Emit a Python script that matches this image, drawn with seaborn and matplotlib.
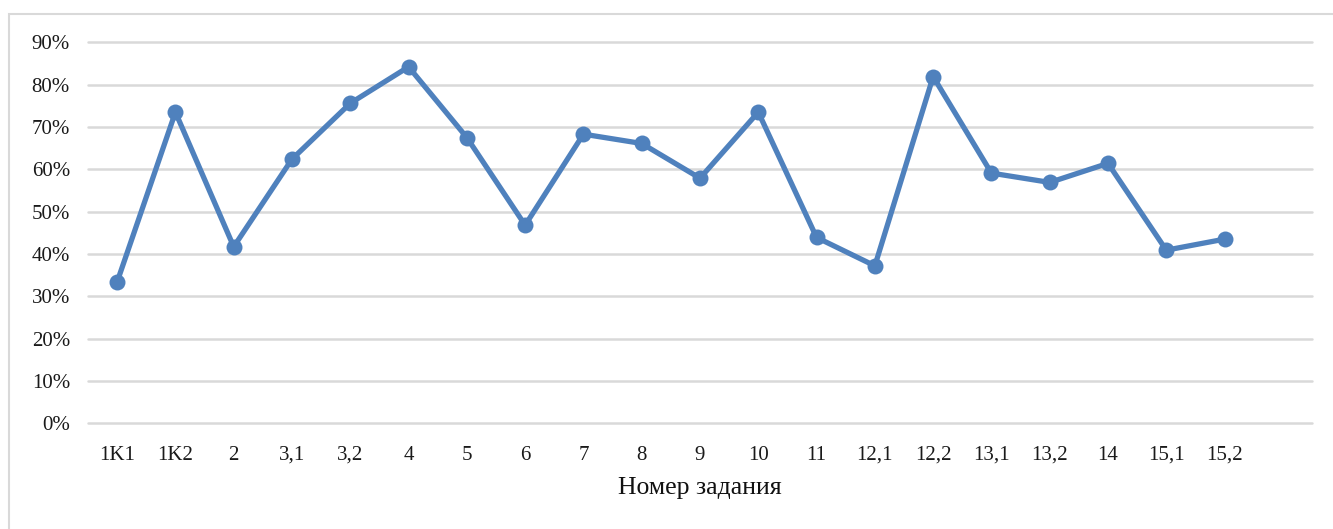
import matplotlib
matplotlib.use("Agg")
import matplotlib.pyplot as plt
import matplotlib.patches as mpatches
from matplotlib.ticker import FuncFormatter, MultipleLocator
import seaborn as sns
import pandas as pd

categories = ["1K1", "1K2", "2", "3,1", "3,2", "4", "5", "6", "7", "8",
              "9", "10", "11", "12,1", "12,2", "13,1", "13,2", "14", "15,1", "15,2"]
values = [0.334, 0.735, 0.417, 0.624, 0.756, 0.842, 0.675, 0.468, 0.683, 0.661,
          0.579, 0.735, 0.439, 0.372, 0.819, 0.591, 0.569, 0.614, 0.409, 0.435]
x_label = "Номер задания"

sns.set_theme(style="white")
plt.rcParams['font.family'] = ['Liberation Serif', 'DejaVu Serif']

df = pd.DataFrame({"cat": categories, "val": values})

fig = plt.figure(figsize=(13.33, 5.29), dpi=100)
ax = fig.add_axes([88/1333, 1 - 423.3/529, (1312 - 88)/1333, (423.3 - 42.3)/529])

# outer chart border
fig.patches.append(mpatches.Rectangle((9/1333, -0.01), 1.0, 1 - 14/529 + 0.01,
                                      transform=fig.transFigure, fill=False,
                                      edgecolor="#D9D9D9", linewidth=1.5, zorder=0))

sns.lineplot(data=df, x="cat", y="val", sort=False, ax=ax, color="#4F81BD",
             linewidth=3.8, marker="o", markersize=11.5, markeredgewidth=0,
             zorder=3)

ax.set_ylim(0, 0.9)
ax.set_xlim(-0.5, len(categories) + 0.5)
ax.yaxis.set_major_locator(MultipleLocator(0.1))
ax.yaxis.set_major_formatter(FuncFormatter(lambda v, p: f"{round(v*100)}%"))
ax.grid(axis="y", color="#D9D9D9", linewidth=1.8)
ax.grid(axis="x", visible=False)
for gl in ax.get_ygridlines():
    gl.set_clip_on(False)
for s in ax.spines.values():
    s.set_visible(False)
ax.tick_params(axis="both", length=0, labelsize=15, colors="#1a1a1a")
ax.tick_params(axis="x", pad=16)
ax.tick_params(axis="y", pad=13)
ax.set_ylabel("")
ax.set_xlabel(x_label, fontsize=18.5, color="#111111", labelpad=9)
ax.set_axisbelow(True)

fig.savefig("out.png", dpi=100)
